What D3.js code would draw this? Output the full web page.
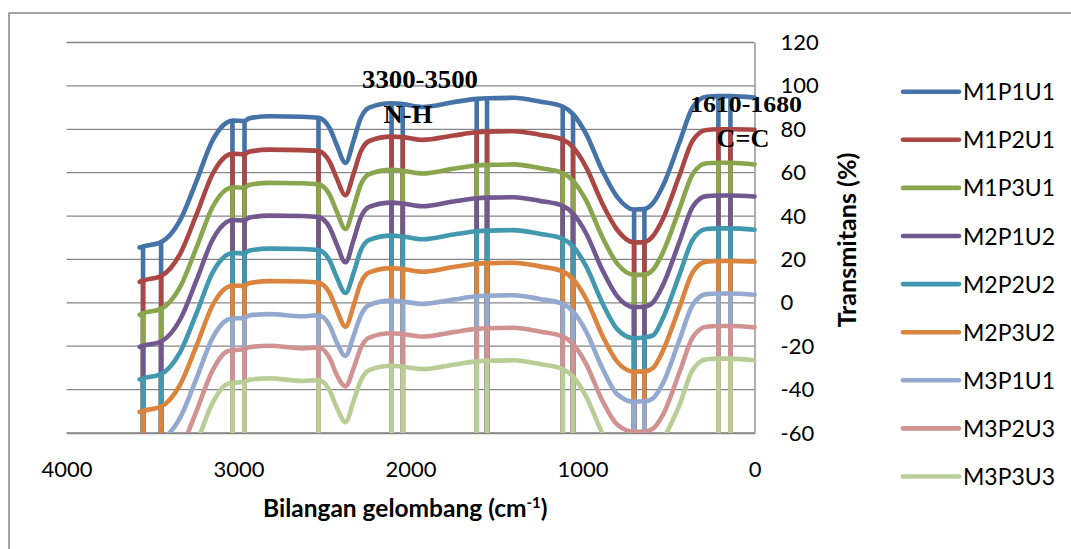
<!DOCTYPE html>
<html>
<head>
<meta charset="utf-8">
<script src="https://cdn.jsdelivr.net/npm/d3@7/dist/d3.min.js"></script>
<style>
  html, body { margin: 0; padding: 0; background: #ffffff; }
  svg { display: block; }
</style>
</head>
<body>
<svg id="chart" width="1071" height="549"></svg>
<script>
// Wavenumber grid (cm-1) shared by all spectra
const wavenumbers = [3575, 3555, 3450, 3340, 3245, 3150, 3070, 3035, 2965, 2940, 2820, 2630, 2535,
  2470, 2430, 2378, 2330, 2290, 2240, 2110, 2045, 1930, 1750, 1615, 1555, 1400, 1250, 1115, 1055,
  980, 885, 800, 700, 640, 590, 535, 436, 360, 280, 210, 140, 0];

// Absorption band positions marked with drop lines
const peakMarks = [3555, 3450, 3035, 2965, 2535, 2110, 2045, 1615, 1555, 1115, 1055, 700, 640, 210, 140];

const seriesNames = ["M1P1U1", "M1P2U1", "M1P3U1", "M2P1U2", "M2P2U2", "M2P3U2", "M3P1U1", "M3P2U3", "M3P3U3"];
const seriesColors = ["#4572A7", "#AA4643", "#89A54E", "#71588F", "#4198AF", "#DB843D", "#93A9CF", "#D19392", "#B9CD96"];

// Transmittance (%) of each sample, stacked with an offset
const M1P1U1 = [25.5, 26.0, 28.0, 38.0, 56.0, 75.0, 83.0, 84.0, 83.8, 85.0, 86.0, 85.8, 85.3,
  80.5, 73.0, 64.5, 75.0, 85.0, 90.0, 92.0, 91.6, 90.3, 92.5, 94.0, 94.3, 94.5, 92.8, 90.5, 87.0,
  78.0, 61.0, 49.0, 43.0, 43.2, 46.0, 53.5, 74.0, 90.0, 95.0, 95.3, 95.3, 94.6];
const M1P2U1 = [9.7, 10.3, 12.4, 22.5, 40.5, 59.5, 67.8, 68.8, 68.4, 69.6, 70.6, 70.4, 70.0,
  65.0, 57.6, 49.6, 59.8, 69.6, 74.6, 76.6, 76.4, 75.1, 77.1, 78.6, 78.9, 79.1, 77.5, 75.2, 71.7,
  62.7, 45.8, 33.8, 27.8, 28.0, 30.8, 38.3, 58.8, 74.7, 79.7, 80.0, 80.0, 79.8];
const M1P3U1 = [-5.5, -4.8, -2.8, 7.2, 25.3, 44.3, 52.3, 53.3, 53.0, 54.3, 55.3, 55.1, 54.6,
  49.8, 42.3, 34.0, 44.3, 54.3, 59.3, 61.3, 60.9, 59.6, 61.8, 63.3, 63.6, 63.8, 62.1, 59.8, 56.3,
  47.3, 30.3, 18.3, 12.9, 13.0, 15.3, 22.8, 43.3, 59.3, 64.3, 64.6, 64.6, 63.8];
const M2P1U2 = [-20.3, -19.8, -17.8, -7.8, 10.2, 29.2, 37.2, 38.2, 38.0, 39.2, 40.2, 40.0, 39.5,
  34.7, 27.2, 18.7, 29.2, 39.2, 44.2, 46.2, 45.8, 44.5, 46.7, 48.2, 48.5, 48.7, 47.0, 44.7, 41.2,
  32.2, 15.2, 3.2, -2.0, -1.8, 0.2, 7.7, 28.2, 44.2, 49.2, 49.5, 49.5, 49.0];
const M2P2U2 = [-35.3, -34.8, -32.8, -22.8, -5.0, 14.0, 22.0, 23.0, 22.8, 24.0, 25.0, 24.8, 24.3,
  19.5, 12.0, 4.5, 14.0, 24.0, 29.0, 31.0, 30.6, 29.3, 31.5, 33.0, 33.3, 33.5, 31.8, 29.5, 26.0,
  17.0, 0.0, -12.0, -16.3, -16.0, -15.0, -7.5, 13.0, 29.0, 34.0, 34.3, 34.3, 33.7];
const M2P3U2 = [-50.3, -49.8, -47.8, -37.8, -20.0, -1.0, 7.0, 8.0, 7.8, 9.0, 10.0, 9.8, 9.3,
  4.5, -3.0, -11.0, -1.0, 9.0, 14.0, 16.0, 15.6, 14.3, 16.5, 18.0, 18.3, 18.5, 16.8, 14.5, 11.0,
  2.0, -15.0, -27.0, -31.8, -31.6, -30.0, -22.5, -2.0, 14.0, 19.0, 19.3, 19.3, 19.0];
const M3P1U1 = [-65.5, -65.0, -63.0, -53.0, -35.0, -16.0, -8.0, -7.2, -7.0, -5.8, -5.2, -6.2, -5.7,
  -10.5, -18.0, -24.5, -15.0, -6.0, -1.0, 1.0, 0.6, -0.5, 1.5, 3.0, 3.3, 3.5, 1.8, -0.5, -4.0,
  -13.0, -30.0, -42.0, -45.6, -45.4, -44.0, -37.5, -17.0, -1.0, 4.0, 4.3, 4.3, 3.7];
const M3P2U3 = [-80.5, -80.0, -78.0, -68.0, -50.0, -31.0, -22.5, -21.8, -21.4, -20.5, -19.8, -21.0, -20.6,
  -25.5, -33.0, -38.5, -30.0, -21.0, -16.0, -14.0, -14.4, -15.5, -13.5, -12.0, -11.7, -11.5, -13.2, -15.5, -19.0,
  -28.0, -45.0, -56.0, -59.5, -59.3, -58.0, -52.0, -32.0, -16.0, -11.0, -10.7, -10.7, -11.3];
const M3P3U3 = [-95.5, -95.0, -93.0, -83.0, -65.0, -46.0, -37.5, -36.8, -36.5, -35.5, -34.8, -36.0, -35.6,
  -40.5, -48.0, -55.0, -45.0, -36.0, -31.0, -29.0, -29.4, -30.5, -28.5, -27.0, -26.7, -26.5, -28.2, -30.5, -34.0,
  -43.0, -60.0, -71.0, -76.0, -75.8, -73.0, -64.0, -47.0, -31.0, -26.0, -25.7, -25.7, -26.5];

const seriesValues = [M1P1U1, M1P2U1, M1P3U1, M2P1U2, M2P2U2, M2P3U2, M3P1U1, M3P2U3, M3P3U3];

const xTicks = [4000, 3000, 2000, 1000, 0];
const yTicks = [-60, -40, -20, 0, 20, 40, 60, 80, 100, 120];

const svg = d3.select("#chart");
const gridColor = "#868686";
const tickFont = "Lato, 'Open Sans', sans-serif";

const x = d3.scaleLinear().domain([4000, 0]).range([66.5, 754.5]);
const y = d3.scaleLinear().domain([-60, 120]).range([433, 42.5]);

// chart frame
svg.append("path")
  .attr("d", "M9,560 L9,13 L1080,13")
  .attr("fill", "none").attr("stroke", gridColor).attr("stroke-width", 1.5);

// horizontal gridlines
svg.append("g").selectAll("line").data(yTicks).join("line")
  .attr("x1", x(4000)).attr("x2", x(0))
  .attr("y1", d => y(d)).attr("y2", d => y(d))
  .attr("stroke", gridColor).attr("stroke-width", 1.3);

// value axis on the right
const yAxis = d3.axisRight(y).tickValues(yTicks).tickSize(0).tickPadding(26).tickFormat(d => String(d));
const yAxisG = svg.append("g").attr("transform", `translate(${x(0)},0)`).call(yAxis);
yAxisG.select(".domain").attr("stroke", gridColor).attr("stroke-width", 1.3);
yAxisG.selectAll("text").attr("font-family", tickFont).attr("font-size", 22).attr("fill", "#000");

// wavenumber axis
const xAxis = d3.axisBottom(x).tickValues(xTicks).tickSize(0).tickPadding(28).tickFormat(d => String(d));
const xAxisG = svg.append("g").attr("transform", `translate(0,${y(-60)})`).call(xAxis);
xAxisG.select(".domain").attr("stroke", gridColor).attr("stroke-width", 1.3);
xAxisG.selectAll("text").attr("font-family", tickFont).attr("font-size", 22).attr("fill", "#000");

// axis titles
const xTitle = svg.append("text")
  .attr("x", 263).attr("y", 517)
  .attr("font-family", tickFont).attr("font-weight", "bold").attr("font-size", 24.5).attr("fill", "#000");
xTitle.append("tspan").text("Bilangan gelombang (cm");
xTitle.append("tspan").attr("dy", -9).attr("font-size", 15).text("-1");
xTitle.append("tspan").attr("dy", 9).text(")");

svg.append("text")
  .attr("transform", "translate(856,240) rotate(-90)")
  .attr("text-anchor", "middle")
  .attr("font-family", tickFont).attr("font-weight", "bold").attr("font-size", 24)
  .attr("fill", "#000")
  .attr("textLength", 175).attr("lengthAdjust", "spacingAndGlyphs")
  .text("Transmitans (%)");

// spectra
const clip = svg.append("clipPath").attr("id", "plot-clip");
clip.append("rect").attr("x", 0).attr("y", 0).attr("width", 1071).attr("height", y(-60));

const line = d3.line()
  .x(d => x(d.w))
  .y(d => y(d.v))
  .curve(d3.curveMonotoneX);

const plot = svg.append("g").attr("clip-path", "url(#plot-clip)");

seriesValues.forEach((vals, i) => {
  const pts = wavenumbers.map((w, k) => ({ w, v: vals[k] }));
  const g = plot.append("g");
  g.append("path")
    .datum(pts)
    .attr("d", line)
    .attr("fill", "none")
    .attr("stroke", seriesColors[i])
    .attr("stroke-width", 4.6)
    .attr("stroke-linejoin", "round")
    .attr("stroke-linecap", "round");
  g.selectAll("line").data(pts.filter(p => peakMarks.includes(p.w))).join("line")
    .attr("x1", d => x(d.w)).attr("x2", d => x(d.w))
    .attr("y1", d => y(d.v)).attr("y2", y(-60) + 6)
    .attr("stroke", seriesColors[i])
    .attr("stroke-width", 4.6);
});

// band annotations
const serif = "'Liberation Serif', 'Times New Roman', serif";
const notes = [
  { text: "3300-3500", cx: 420, by: 88, len: 116, size: 25 },
  { text: "N-H", cx: 408, by: 123, len: 49, size: 25 },
  { text: "1610-1680", cx: 746, by: 112, len: 112, size: 24 },
  { text: "C=C", cx: 743, by: 147, len: 53, size: 25 }
];
svg.append("g").selectAll("text").data(notes).join("text")
  .attr("x", d => d.cx).attr("y", d => d.by)
  .attr("text-anchor", "middle")
  .attr("font-family", serif).attr("font-weight", "bold").attr("font-size", d => d.size)
  .attr("fill", "#000")
  .attr("textLength", d => d.len).attr("lengthAdjust", "spacingAndGlyphs")
  .text(d => d.text);

// legend
const legend = svg.append("g").selectAll("g").data(seriesNames).join("g")
  .attr("transform", (d, i) => `translate(903,${91.7 + i * 48.1})`);
legend.append("line")
  .attr("x1", 0).attr("x2", 56).attr("y1", 0).attr("y2", 0)
  .attr("stroke", (d, i) => seriesColors[i])
  .attr("stroke-width", 4.6).attr("stroke-linecap", "round");
legend.append("text")
  .attr("x", 60).attr("y", 8.5)
  .attr("font-family", tickFont).attr("font-size", 23).attr("fill", "#000")
  .text(d => d);
</script>
</body>
</html>
